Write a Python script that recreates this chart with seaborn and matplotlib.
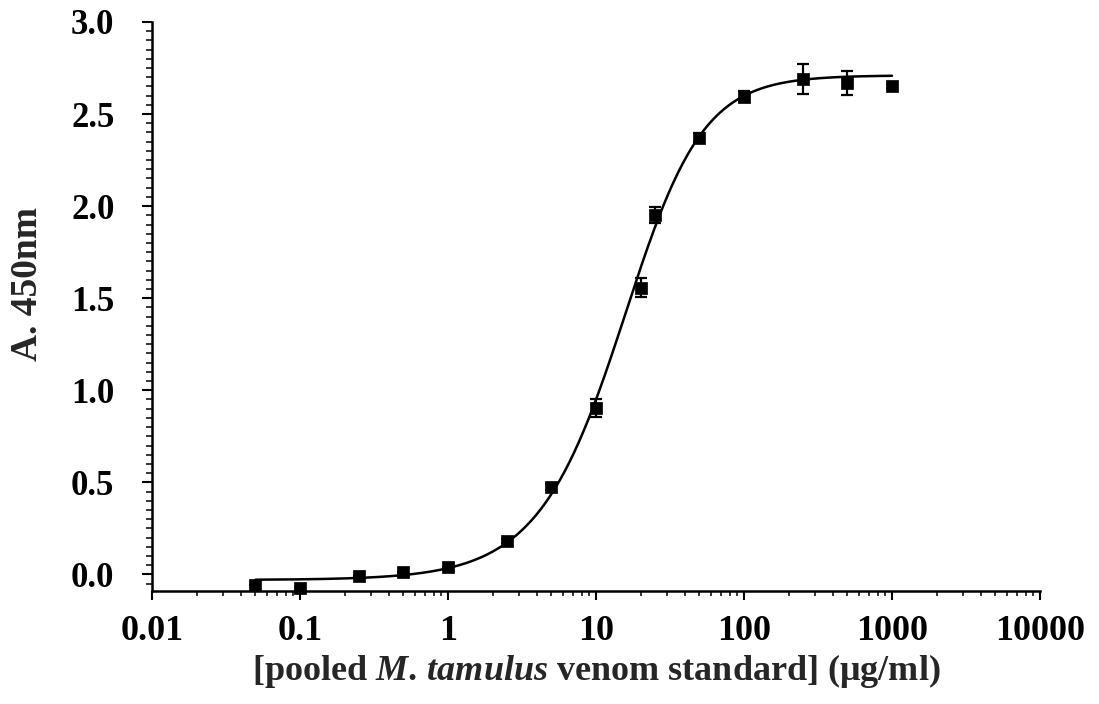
import numpy as np
import pandas as pd
import matplotlib
matplotlib.use("Agg")
import matplotlib.pyplot as plt
import matplotlib.ticker as mticker
import seaborn as sns

# Venom standard concentrations (µg/ml) and mean absorbance at 450 nm
concentration = [0.05, 0.1, 0.25, 0.5, 1, 2.5, 5, 10, 20, 25, 50, 100, 250, 500, 1000]
absorbance = [-0.057, -0.075, -0.008, 0.012, 0.042, 0.183, 0.476, 0.903,
              1.558, 1.951, 2.372, 2.593, 2.692, 2.669, 2.651]
abs_error = [0.0, 0.0, 0.0, 0.0, 0.0, 0.01, 0.015, 0.05,
             0.054, 0.045, 0.025, 0.03, 0.082, 0.065, 0.01]

# Five-parameter logistic standard-curve fit
fit_bottom = -0.03
fit_top = 2.71
fit_ec50 = 19.0
fit_hill = 1.72
fit_asym = 0.74

x_ticks = [0.01, 0.1, 1, 10, 100, 1000, 10000]
x_tick_labels = ["0.01", "0.1", "1", "10", "100", "1000", "10000"]
y_ticks = [0.0, 0.5, 1.0, 1.5, 2.0, 2.5, 3.0]

sns.set_style("ticks")
plt.rcParams["font.family"] = ["Liberation Serif", "DejaVu Serif"]
plt.rcParams["font.weight"] = "bold"
plt.rcParams["mathtext.fontset"] = "custom"
plt.rcParams["mathtext.rm"] = "Liberation Serif:bold"
plt.rcParams["mathtext.it"] = "Liberation Serif:italic:bold"
plt.rcParams["mathtext.bf"] = "Liberation Serif:bold"

df = pd.DataFrame({"conc": concentration, "a450": absorbance, "err": abs_error})

x_fit = np.logspace(np.log10(min(concentration)), np.log10(max(concentration)), 400)
u = (fit_ec50 / x_fit) ** fit_hill
y_fit = fit_bottom + (fit_top - fit_bottom) / (1.0 + u) ** fit_asym
fit_df = pd.DataFrame({"conc": x_fit, "a450": y_fit})

fig = plt.figure(figsize=(10.99, 7.04), dpi=100)
ax = fig.add_axes([0.1383, 0.1605, 0.808, 0.8083])

sns.lineplot(data=fit_df, x="conc", y="a450", ax=ax, color="black", linewidth=1.8, zorder=2)
ax.errorbar(df["conc"], df["a450"], yerr=df["err"], fmt="none", ecolor="black",
            elinewidth=1.6, capsize=4.5, capthick=1.6, zorder=3)
sns.scatterplot(data=df, x="conc", y="a450", ax=ax, marker="s", color="black",
                s=70, edgecolor="black", linewidth=0.5, zorder=4, clip_on=False)

ax.set_xscale("log")
ax.set_xlim(0.01, 10000)
ax.set_ylim(-0.09, 3.0)

ax.set_xticks(x_ticks)
ax.set_xticklabels(x_tick_labels)
ax.xaxis.set_minor_locator(mticker.LogLocator(base=10, subs=np.arange(2, 10), numticks=20))
ax.xaxis.set_minor_formatter(mticker.NullFormatter())
ax.set_yticks(y_ticks)
ax.set_yticklabels([f"{v:.1f}" for v in y_ticks])
ax.yaxis.set_minor_locator(mticker.MultipleLocator(0.05))

for side in ("top", "right"):
    ax.spines[side].set_visible(False)
for side in ("left", "bottom"):
    ax.spines[side].set_linewidth(1.8)
    ax.spines[side].set_color("black")

ax.tick_params(axis="both", which="major", direction="out", width=1.5, color="black",
               labelcolor="black")
ax.tick_params(axis="x", which="major", length=6.5, pad=11, labelsize=26)
ax.tick_params(axis="y", which="major", length=7, pad=20, labelsize=25)
ax.tick_params(axis="x", which="minor", direction="out", length=3.5, width=1.3)
ax.tick_params(axis="y", which="minor", direction="out", length=4, width=1.3)
for lbl in ax.get_xticklabels() + ax.get_yticklabels():
    lbl.set_fontweight("bold")

ax.set_xlabel(r"[pooled $\mathit{M.\,tamulus}$ venom standard] (μg/ml)",
              fontsize=26, fontweight="bold", labelpad=3)
ax.set_ylabel("A. 450nm", fontsize=27, fontweight="bold")
ax.yaxis.set_label_coords(-0.12, 0.54)

fig.savefig("out.png", dpi=100, facecolor="white")
